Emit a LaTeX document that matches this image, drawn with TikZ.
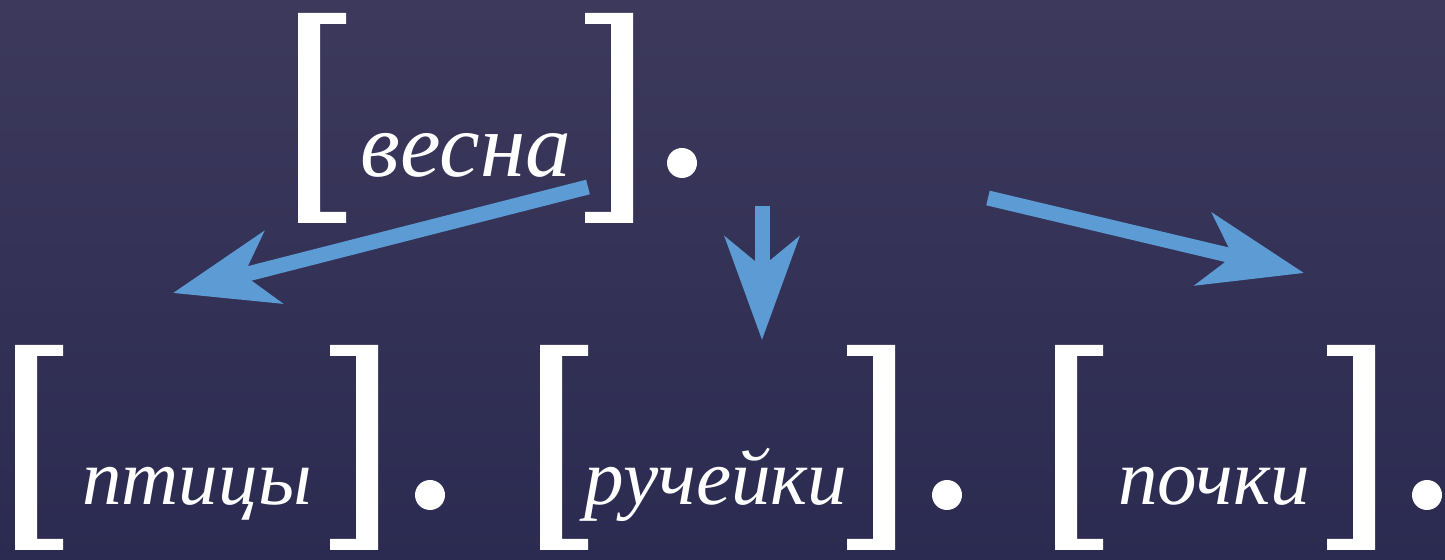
\documentclass[tikz,border=0pt]{standalone}
\usepackage{fontspec}
\setmainfont{Liberation Serif}
\usetikzlibrary{arrows.meta}
\definecolor{bgtop}{RGB}{60,57,92}
\definecolor{bgbot}{RGB}{43,42,80}
\definecolor{arrowblue}{RGB}{92,155,211}
\begin{document}
\begin{tikzpicture}[x=0.02cm,y=-0.02cm,
  word/.style={font=\itshape\fontsize{45}{52}\selectfont,text=white,inner sep=0pt,anchor=base},
  bigword/.style={word,font=\itshape\fontsize{52}{60}\selectfont},
  link/.style={arrowblue,line width=0.3cm,-{Stealth[length=2.06cm,width=1.48cm,inset=0.6cm]}}]
% background, fixes the 1445x560 frame
\shade[top color=bgtop,bottom color=bgbot] (0,0) rectangle (1445,560);
\useasboundingbox (0,0) rectangle (1445,560);
% opening brackets: outer x / top / bottom
\foreach \bx/\bt/\bb in {298/13/223, 15/345/550, 540/345/550, 1055/345/550}
  \fill[white] (\bx,\bt) -- (\bx+48,\bt) -- (\bx+48,\bt+11) -- (\bx+22,\bt+11)
    -- (\bx+22,\bb-11) -- (\bx+48,\bb-11) -- (\bx+48,\bb) -- (\bx,\bb) -- cycle;
% closing brackets
\foreach \bx/\bt/\bb in {633/13/223, 378/345/550, 895/345/550, 1375/345/550}
  \fill[white] (\bx,\bt) -- (\bx-48,\bt) -- (\bx-48,\bt+11) -- (\bx-22,\bt+11)
    -- (\bx-22,\bb-11) -- (\bx-48,\bb-11) -- (\bx-48,\bb) -- (\bx,\bb) -- cycle;
% full stops
\foreach \dx/\dy in {682/163, 430/495, 947/495, 1427/495}
  \fill[white] (\dx,\dy) circle (15);
% words
\node[bigword] (vesna) at (466,177) {весна};
\node[word] (ptitsy) at (197,505) {птицы};
\node[word] (rucheyki) at (716,505) {ручейки};
\node[word] (pochki) at (1214,505) {почки};
% arrows from the top word to the three below
\coordinate (outL) at (588,187);
\coordinate (outM) at (762,206);
\coordinate (outR) at (988,198);
\coordinate (inL) at (173,293);
\coordinate (inM) at (762,340);
\coordinate (inR) at (1304,273);
\draw[link] (outL) -- (inL);
\draw[link] (outM) -- (inM);
\draw[link] (outR) -- (inR);
\end{tikzpicture}
\end{document}
